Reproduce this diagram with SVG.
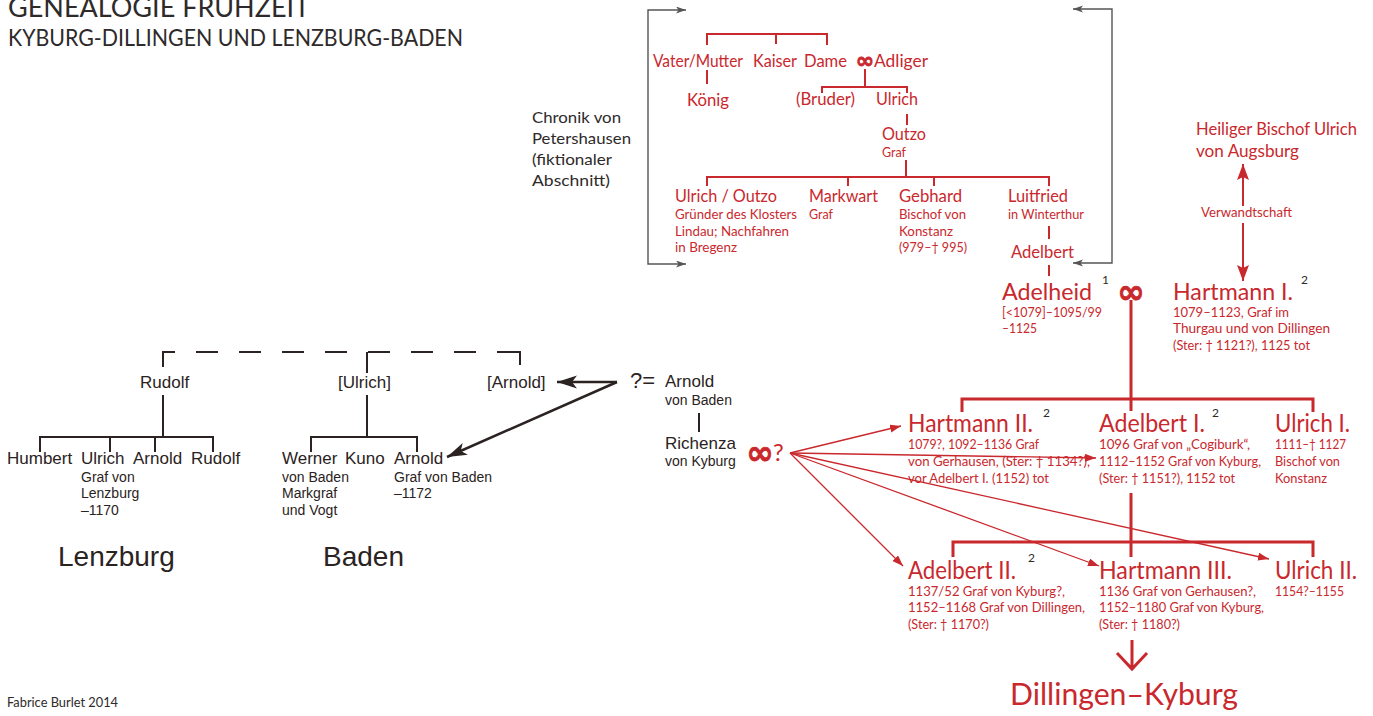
<svg xmlns="http://www.w3.org/2000/svg" width="1373" height="716" viewBox="0 0 1373 716">
<style>
.r{fill:#c9282d;font-family:Lato,"Open Sans",sans-serif}
.k{fill:#2a2322;font-family:"Liberation Sans",Arial,sans-serif}
.d{fill:#2e2a2a;font-family:Lato,"Open Sans",sans-serif}
.inf{fill:#c9282d;stroke:#c9282d;stroke-width:0.8;font-family:"DejaVu Sans",sans-serif;font-weight:bold;text-anchor:middle}
.rl{stroke:#c9282d;stroke-width:2;fill:none}
.rt{stroke:#c9282d;stroke-width:3;fill:none}
.ra{stroke:#c9282d;stroke-width:1.3;fill:none}
.kl{stroke:#2a2322;stroke-width:2;fill:none}
.ka{stroke:#2a2322;stroke-width:2.5;fill:none}
.gl{stroke:#555;stroke-width:1.4;fill:none}
.s13{font-size:13px}
.s18{font-size:18px}
</style>
<defs>
<marker id="mg" markerUnits="userSpaceOnUse" markerWidth="11" markerHeight="8" refX="10" refY="3.5" orient="auto-start-reverse"><path d="M0,0 L10,3.5 L0,7 L2.5,3.5 z" fill="#555"/></marker>
<marker id="mr" markerUnits="userSpaceOnUse" markerWidth="12" markerHeight="9" refX="11" refY="4" orient="auto"><path d="M0,0 L11,4 L0,8 z" fill="#c9282d"/></marker>
<marker id="mR" markerUnits="userSpaceOnUse" markerWidth="17" markerHeight="13" refX="16" refY="6" orient="auto-start-reverse"><path d="M0,0 L16,6 L0,12 L3,6 z" fill="#c9282d"/></marker>
<marker id="mk" markerUnits="userSpaceOnUse" markerWidth="21" markerHeight="14" refX="20" refY="6.5" orient="auto"><path d="M0,0 L20,6.5 L0,13 L5,6.5 z" fill="#2a2322"/></marker>
</defs>
<rect width="1373" height="716" fill="#ffffff"/>

<g id="title">
<text class="d" x="8" y="17" font-size="27" textLength="302" lengthAdjust="spacingAndGlyphs">GENEALOGIE FRÜHZEIT</text>
<text class="d" x="8" y="46" font-size="24" textLength="455" lengthAdjust="spacingAndGlyphs">KYBURG-DILLINGEN UND LENZBURG-BADEN</text>
</g>
<g id="footer"><text class="d s13" x="7" y="707" textLength="111" lengthAdjust="spacingAndGlyphs">Fabrice Burlet 2014</text></g>

<g id="connectors">
<!-- chronicle brackets -->
<path class="gl" d="M686,10 H648 V264 H686" marker-start="url(#mg)" marker-end="url(#mg)"/>
<path class="gl" d="M1073,9 H1112 V263 H1073" marker-start="url(#mg)" marker-end="url(#mg)"/>
<!-- top tree -->
<path class="rl" d="M707,45 V34 H827 V45 M776,34 V44"/>
<path class="rl" d="M707,70 V84"/>
<path class="rl" d="M865,69 V87 M822,93 V87 H907 V93"/>
<path class="rl" d="M907,114 V125"/>
<path class="rl" d="M906,160 V177 M707,186 V177 H1049 V186 M848,177 V186 M934,177 V186"/>
<path class="rl" d="M1049,226 V239 M1049,265 V276"/>
<!-- Verwandtschaft -->
<path class="rl" d="M1243,206 V164" marker-end="url(#mR)"/>
<path class="rl" d="M1243,223 V281" marker-end="url(#mR)"/>
<!-- Adelheid x Hartmann I -->
<path class="rt" d="M1131,300 V399 M962,412 V399 H1313 V412 M1131,399 V411"/>
<path class="rt" d="M1131,493 V557 M953,557 V542 H1313 V557"/>
<path class="rt" d="M1132,640 V670 M1117,653 L1132,669 L1147,653"/>
<!-- Richenza arrows -->
<path class="ra" d="M790,453 L901,426" marker-end="url(#mr)"/>
<path class="ra" d="M790,453 L1096,458" marker-end="url(#mr)"/>
<path class="ra" d="M790,453 L1269,559" marker-end="url(#mr)"/>
<path class="ra" d="M790,453 L1099,566" marker-end="url(#mr)"/>
<path class="ra" d="M790,453 L903,566" marker-end="url(#mr)"/>
<!-- black tree -->
<path class="kl" d="M163,367 V352 H173 M520,365 V352 H510"/>
<path class="kl" d="M173,352 H510" stroke-dasharray="22 21" stroke-dashoffset="-23"/>
<path class="kl" d="M367,352 V373"/>
<path class="kl" d="M163,395 V437 M40,452 V437 H213 V452 M110,437 V452 M155,437 V452"/>
<path class="kl" d="M367,395 V437 M311,452 V437 H417 V452"/>
<path class="kl" d="M699,413 V432"/>
<path class="ka" d="M617,382 L557,382" marker-end="url(#mk)"/>
<path class="ka" d="M617,382 L447,457" marker-end="url(#mk)"/>
</g>

<g id="chronik">
<text class="d" x="532" y="123" font-size="16" textLength="89" lengthAdjust="spacingAndGlyphs">Chronik von</text>
<text class="d" x="532" y="144" font-size="16" textLength="99" lengthAdjust="spacingAndGlyphs">Petershausen</text>
<text class="d" x="532" y="165" font-size="16" textLength="80" lengthAdjust="spacingAndGlyphs">(fiktionaler</text>
<text class="d" x="532" y="186" font-size="16" textLength="78" lengthAdjust="spacingAndGlyphs">Abschnitt)</text>
</g>

<g id="vater"><text class="r s18" x="653" y="67" textLength="90" lengthAdjust="spacingAndGlyphs">Vater/Mutter</text></g>
<g id="kaiser"><text class="r s18" x="753" y="67" textLength="44" lengthAdjust="spacingAndGlyphs">Kaiser</text></g>
<g id="dame"><text class="r s18" x="804" y="67" textLength="43" lengthAdjust="spacingAndGlyphs">Dame</text></g>
<g id="dame-adliger"><text class="inf" x="865" y="68" font-size="22">∞</text></g>
<g id="adliger"><text class="r s18" x="874" y="67" textLength="54" lengthAdjust="spacingAndGlyphs">Adliger</text></g>
<g id="koenig"><text class="r s18" x="687" y="106" textLength="42" lengthAdjust="spacingAndGlyphs">König</text></g>
<g id="bruder"><text class="r s18" x="796" y="105" textLength="59" lengthAdjust="spacingAndGlyphs">(Bruder)</text></g>
<g id="ulrich0"><text class="r s18" x="876" y="105" textLength="42" lengthAdjust="spacingAndGlyphs">Ulrich</text></g>
<g id="outzo">
<text class="r s18" x="882" y="140" textLength="44" lengthAdjust="spacingAndGlyphs">Outzo</text>
<text class="r s13" x="882" y="157" textLength="24" lengthAdjust="spacingAndGlyphs">Graf</text>
</g>
<g id="ulrich-outzo">
<text class="r s18" x="675" y="202" textLength="102" lengthAdjust="spacingAndGlyphs">Ulrich / Outzo</text>
<text class="r s13" x="675" y="219" textLength="122" lengthAdjust="spacingAndGlyphs">Gründer des Klosters</text>
<text class="r s13" x="675" y="236" textLength="114" lengthAdjust="spacingAndGlyphs">Lindau; Nachfahren</text>
<text class="r s13" x="675" y="252" textLength="62" lengthAdjust="spacingAndGlyphs">in Bregenz</text>
</g>
<g id="markwart">
<text class="r s18" x="809" y="202" textLength="69" lengthAdjust="spacingAndGlyphs">Markwart</text>
<text class="r s13" x="809" y="219" textLength="24" lengthAdjust="spacingAndGlyphs">Graf</text>
</g>
<g id="gebhard">
<text class="r s18" x="899" y="202" textLength="63" lengthAdjust="spacingAndGlyphs">Gebhard</text>
<text class="r s13" x="899" y="219" textLength="67" lengthAdjust="spacingAndGlyphs">Bischof von</text>
<text class="r s13" x="899" y="236" textLength="54" lengthAdjust="spacingAndGlyphs">Konstanz</text>
<text class="r s13" x="899" y="252" textLength="68" lengthAdjust="spacingAndGlyphs">(979–† 995)</text>
</g>
<g id="luitfried">
<text class="r s18" x="1008" y="202" textLength="60" lengthAdjust="spacingAndGlyphs">Luitfried</text>
<text class="r s13" x="1008" y="219" textLength="76" lengthAdjust="spacingAndGlyphs">in Winterthur</text>
</g>
<g id="adelbert0"><text class="r s18" x="1011" y="258" textLength="63" lengthAdjust="spacingAndGlyphs">Adelbert</text></g>

<g id="bischof-ulrich">
<text class="r" x="1196" y="135" font-size="17" textLength="161" lengthAdjust="spacingAndGlyphs">Heiliger Bischof Ulrich</text>
<text class="r" x="1196" y="157" font-size="17" textLength="103" lengthAdjust="spacingAndGlyphs">von Augsburg</text>
</g>
<g id="verwandtschaft"><text class="r s13" x="1201" y="217" textLength="91" lengthAdjust="spacingAndGlyphs">Verwandtschaft</text></g>

<g id="adelheid">
<text class="r" x="1002" y="300" font-size="23" textLength="90" lengthAdjust="spacingAndGlyphs">Adelheid</text>
<text class="d" x="1102" y="284" font-size="12">1</text>
<text class="r s13" x="1002" y="317" textLength="100" lengthAdjust="spacingAndGlyphs">[&lt;1079]–1095/99</text>
<text class="r s13" x="1002" y="333" textLength="35" lengthAdjust="spacingAndGlyphs">–1125</text>
</g>
<g id="ehe1"><text class="inf" x="1131" y="303" font-size="33">∞</text></g>
<g id="hartmann1">
<text class="r" x="1173" y="300" font-size="23" textLength="120" lengthAdjust="spacingAndGlyphs">Hartmann I.</text>
<text class="d" x="1301" y="284" font-size="12">2</text>
<text class="r s13" x="1173" y="317" textLength="116" lengthAdjust="spacingAndGlyphs">1079–1123,  Graf im</text>
<text class="r s13" x="1173" y="333" textLength="157" lengthAdjust="spacingAndGlyphs">Thurgau und von Dillingen</text>
<text class="r s13" x="1173" y="350" textLength="137" lengthAdjust="spacingAndGlyphs">(Ster: † 1121?), 1125 tot</text>
</g>

<g id="hartmann2">
<text class="r" x="908" y="432" font-size="25" textLength="125" lengthAdjust="spacingAndGlyphs">Hartmann II.</text>
<text class="d" x="1043" y="417" font-size="12">2</text>
<text class="r s13" x="908" y="449" textLength="131" lengthAdjust="spacingAndGlyphs">1079?, 1092–1136 Graf</text>
<text class="r s13" x="908" y="466" textLength="182" lengthAdjust="spacingAndGlyphs">von Gerhausen, (Ster: † 1134?),</text>
<text class="r s13" x="908" y="483" textLength="141" lengthAdjust="spacingAndGlyphs">vor Adelbert I. (1152) tot</text>
</g>
<g id="adelbert1">
<text class="r" x="1099" y="432" font-size="25" textLength="106" lengthAdjust="spacingAndGlyphs">Adelbert I.</text>
<text class="d" x="1212" y="417" font-size="12">2</text>
<text class="r s13" x="1099" y="449" textLength="151" lengthAdjust="spacingAndGlyphs">1096 Graf von „Cogiburk“,</text>
<text class="r s13" x="1099" y="466" textLength="162" lengthAdjust="spacingAndGlyphs">1112–1152 Graf von Kyburg,</text>
<text class="r s13" x="1099" y="483" textLength="136" lengthAdjust="spacingAndGlyphs">(Ster: † 1151?), 1152 tot</text>
</g>
<g id="ulrich1">
<text class="r" x="1275" y="432" font-size="25" textLength="75" lengthAdjust="spacingAndGlyphs">Ulrich I.</text>
<text class="r s13" x="1275" y="449" textLength="71" lengthAdjust="spacingAndGlyphs">1111–† 1127</text>
<text class="r s13" x="1275" y="466" textLength="65" lengthAdjust="spacingAndGlyphs">Bischof von</text>
<text class="r s13" x="1275" y="483" textLength="52" lengthAdjust="spacingAndGlyphs">Konstanz</text>
</g>

<g id="adelbert2">
<text class="r" x="908" y="579" font-size="25" textLength="108" lengthAdjust="spacingAndGlyphs">Adelbert II.</text>
<text class="d" x="1028" y="562" font-size="12">2</text>
<text class="r s13" x="908" y="596" textLength="157" lengthAdjust="spacingAndGlyphs">1137/52 Graf von Kyburg?,</text>
<text class="r s13" x="908" y="612" textLength="177" lengthAdjust="spacingAndGlyphs">1152–1168 Graf von Dillingen,</text>
<text class="r s13" x="908" y="629" textLength="81" lengthAdjust="spacingAndGlyphs">(Ster: † 1170?)</text>
</g>
<g id="hartmann3">
<text class="r" x="1099" y="579" font-size="25" textLength="133" lengthAdjust="spacingAndGlyphs">Hartmann III.</text>
<text class="r s13" x="1099" y="596" textLength="157" lengthAdjust="spacingAndGlyphs">1136 Graf von Gerhausen?,</text>
<text class="r s13" x="1099" y="612" textLength="165" lengthAdjust="spacingAndGlyphs">1152–1180 Graf von Kyburg,</text>
<text class="r s13" x="1099" y="629" textLength="81" lengthAdjust="spacingAndGlyphs">(Ster: † 1180?)</text>
</g>
<g id="ulrich2">
<text class="r" x="1275" y="579" font-size="25" textLength="82" lengthAdjust="spacingAndGlyphs">Ulrich II.</text>
<text class="r s13" x="1275" y="596" textLength="69" lengthAdjust="spacingAndGlyphs">1154?–1155</text>
</g>
<g id="dillingen-kyburg"><text class="r" x="1010" y="705" font-size="30" textLength="228" lengthAdjust="spacingAndGlyphs">Dillingen–Kyburg</text></g>

<g id="arnold-baden">
<text class="k" x="665" y="387" font-size="17">Arnold</text>
<text class="k" x="665" y="405" font-size="14">von Baden</text>
</g>
<g id="gleich"><text class="k" x="630" y="388" font-size="22">?=</text></g>
<g id="richenza">
<text class="k" x="665" y="449" font-size="17">Richenza</text>
<text class="k" x="665" y="466" font-size="14">von Kyburg</text>
</g>
<g id="ehe2">
<text class="inf" x="760" y="464" font-size="33">∞</text>
<text class="r" x="773" y="461" font-size="24">?</text>
</g>

<g id="rudolf0"><text class="k" x="140" y="388" font-size="17">Rudolf</text></g>
<g id="ulrich-b"><text class="k" x="338" y="388" font-size="17">[Ulrich]</text></g>
<g id="arnold-b"><text class="k" x="487" y="388" font-size="17">[Arnold]</text></g>
<g id="humbert"><text class="k" x="7" y="464" font-size="17">Humbert</text></g>
<g id="ulrich-l">
<text class="k" x="81" y="464" font-size="17">Ulrich</text>
<text class="k" x="81" y="482" font-size="14">Graf von</text>
<text class="k" x="81" y="498" font-size="14">Lenzburg</text>
<text class="k" x="81" y="515" font-size="14">–1170</text>
</g>
<g id="arnold-l"><text class="k" x="133" y="464" font-size="17">Arnold</text></g>
<g id="rudolf-l"><text class="k" x="191" y="464" font-size="17">Rudolf</text></g>
<g id="werner">
<text class="k" x="282" y="464" font-size="17">Werner</text>
<text class="k" x="282" y="482" font-size="14">von Baden</text>
<text class="k" x="282" y="498" font-size="14">Markgraf</text>
<text class="k" x="282" y="515" font-size="14">und Vogt</text>
</g>
<g id="kuno"><text class="k" x="345" y="464" font-size="17">Kuno</text></g>
<g id="arnold-gb">
<text class="k" x="394" y="464" font-size="17">Arnold</text>
<text class="k" x="394" y="482" font-size="14">Graf von Baden</text>
<text class="k" x="394" y="498" font-size="14">–1172</text>
</g>
<g id="lenzburg"><text class="k" x="58" y="566" font-size="28">Lenzburg</text></g>
<g id="baden"><text class="k" x="323" y="566" font-size="28">Baden</text></g>
</svg>
